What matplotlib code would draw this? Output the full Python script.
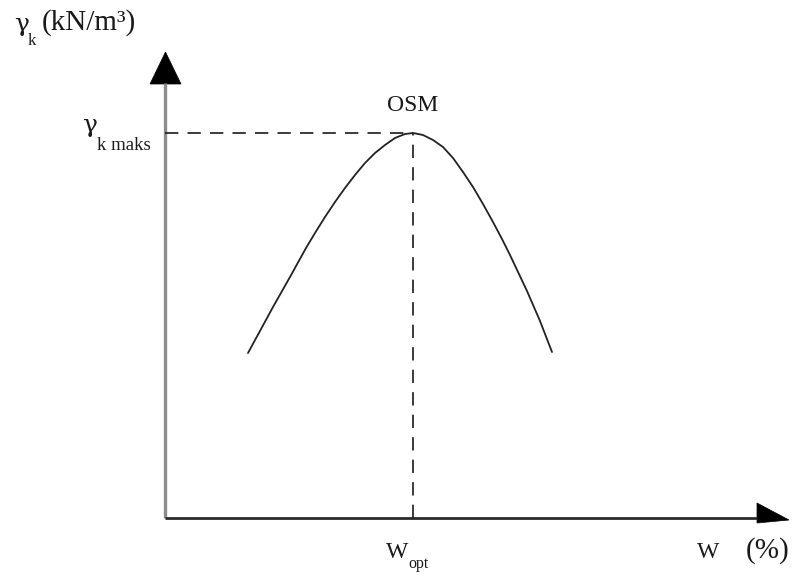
import matplotlib
matplotlib.use('Agg')
import matplotlib.pyplot as plt
from matplotlib.patches import Polygon

W, H = 798, 580
SERIF = ['Liberation Serif', 'DejaVu Serif']
GREEK = ['DejaVu Serif']
INK = '#1a1a1a'

# compaction curve (arbitrary units, origin at axis corner)
w_vals = [83, 108, 125, 141, 150, 160, 170, 180, 190, 200, 210, 220,
          230, 240, 248, 258, 268, 278, 288, 298, 308, 318, 328, 337,
          345, 362, 375, 387]
gamma_vals = [165, 211, 241, 270, 285, 301, 316, 330, 343, 355, 365, 373,
              380, 384, 385, 383, 378, 371, 360, 346, 331, 314, 296, 279,
              263, 227, 197, 166]
w_opt = 248
gamma_max = 385

# axis extent in the same units
x_end, y_end = 624, 466

fig = plt.figure(figsize=(W / 100, H / 100), dpi=100)
fig.patch.set_facecolor('white')

x0, y0 = 165, 518  # axis corner, pixels
ax = fig.add_axes([x0 / W, (H - y0) / H, x_end / W, y_end / H])
ax.set_xlim(0, x_end)
ax.set_ylim(0, y_end)
ax.axis('off')

# axes with arrow heads
ax.plot([0, 0], [0, y_end - 31], color='#8c8c8c', lw=2.4,
        solid_capstyle='butt', clip_on=False)
ax.plot([0, x_end - 32], [0, 0], color='#2b2b2b', lw=2.0,
        solid_capstyle='butt', clip_on=False)
ax.add_patch(Polygon([(-15, y_end - 32), (16, y_end - 32), (0.5, y_end)],
                     closed=True, facecolor='black', edgecolor='black',
                     lw=0.5, clip_on=False))
ax.add_patch(Polygon([(x_end - 32, 15), (x_end - 32, -5), (x_end, -2)],
                     closed=True, facecolor='black', edgecolor='black',
                     lw=0.5, clip_on=False))

# dashed guides to the optimum
ax.plot([0, w_opt], [gamma_max, gamma_max], color=INK, lw=1.2,
        dashes=(8, 5.5), clip_on=False)
ax.plot([w_opt, w_opt], [0, gamma_max], color=INK, lw=1.2,
        dashes=(8, 5.5), clip_on=False)

# the curve
ax.plot(w_vals, gamma_vals, color='#222222', lw=1.3,
        solid_capstyle='round', solid_joinstyle='round', clip_on=False)


def label(px, py, s, size, ha='left', family=SERIF):
    fig.text(px / W, 1 - py / H, s, fontsize=size, family=family,
             ha=ha, va='baseline', color=INK)


# y axis title
label(14, 31, 'γ', 18, family=GREEK)
label(28, 45, 'k', 12)
label(42, 30, '(kN/m³)', 21)

# gamma max tick label
label(82, 132, 'γ', 18, family=GREEK)
label(97, 150, 'k maks', 13.5)

label(413, 111, 'OSM', 17, ha='center')

# x labels
label(386, 558, 'W', 17)
label(408, 568, 'opt', 11.5)
label(697, 558, 'W', 17)
label(746, 558, '(%)', 21)

fig.savefig('out.png', dpi=100, facecolor='white')
plt.close(fig)
